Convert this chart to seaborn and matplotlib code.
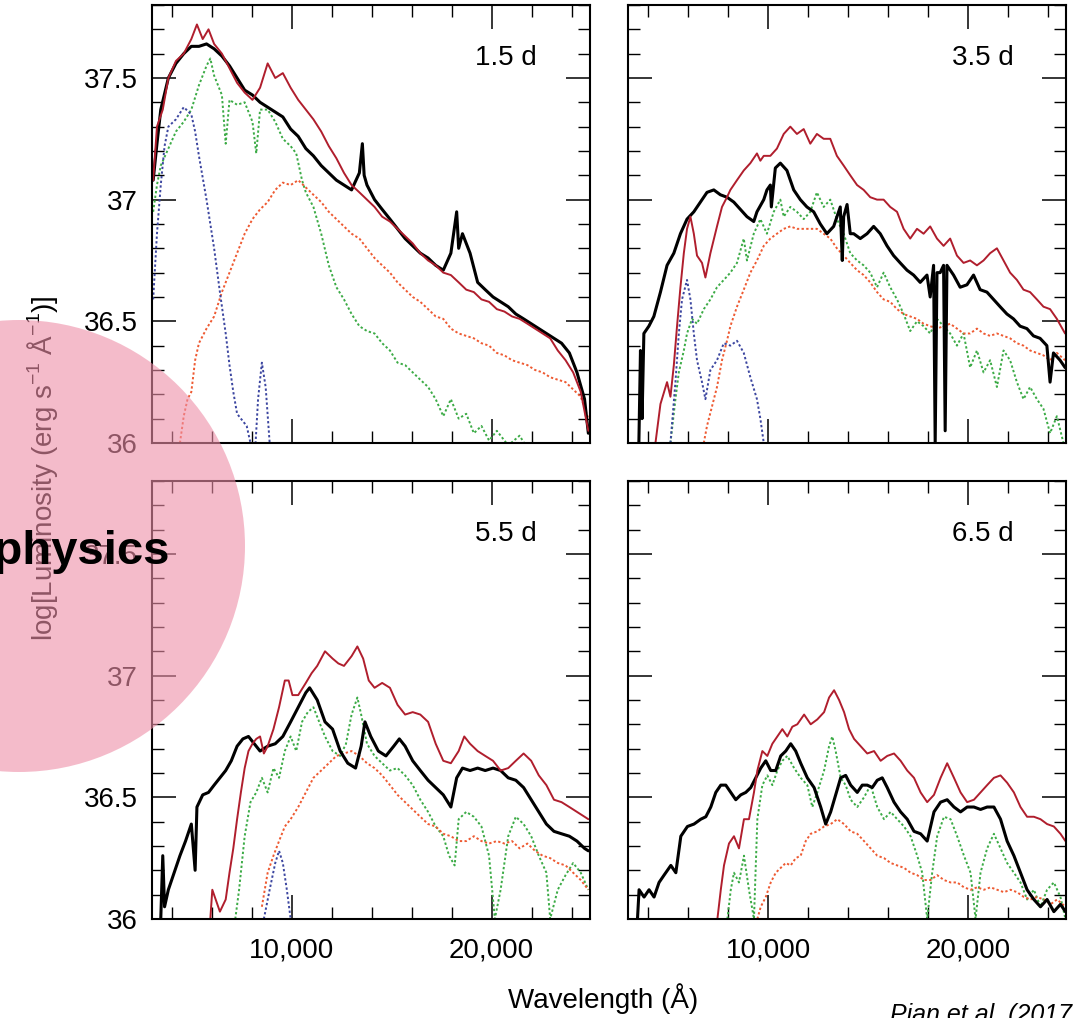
import pandas as pd
import matplotlib.pyplot as plt
import seaborn as sns
from matplotlib.patches import Circle
from matplotlib.ticker import MultipleLocator, FuncFormatter

# (wavelength in Angstrom, log luminosity)
# ---- 1.5 d ----
obs_15 = [(3060, 37.08), (3250, 37.23), (3440, 37.37), (3820, 37.50), (4200, 37.56), (4590, 37.60),
          (4970, 37.63), (5350, 37.63), (5730, 37.64), (6110, 37.62), (6500, 37.59), (6880, 37.55),
          (7260, 37.50), (7640, 37.45), (8030, 37.43), (8410, 37.40), (8790, 37.38), (9170, 37.36),
          (9550, 37.34), (9940, 37.29), (10320, 37.26), (10700, 37.21), (11080, 37.18), (11470, 37.14),
          (11850, 37.11), (12230, 37.08), (12610, 37.06), (12990, 37.04), (13380, 37.11), (13530, 37.23),
          (13620, 37.10), (13760, 37.06), (14140, 37.00), (14520, 36.96), (14910, 36.92), (15290, 36.88),
          (15670, 36.84), (16050, 36.81), (16430, 36.78), (16820, 36.76), (17200, 36.73), (17580, 36.71),
          (17960, 36.78), (18250, 36.95), (18350, 36.80), (18540, 36.86), (18730, 36.82), (18920, 36.78),
          (19300, 36.66), (19680, 36.63), (20070, 36.60), (20450, 36.58), (20830, 36.56), (21210, 36.53),
          (21600, 36.51), (21980, 36.49), (22360, 36.47), (22740, 36.45), (23120, 36.43), (23500, 36.41),
          (23890, 36.37), (24270, 36.29), (24650, 36.18), (24840, 36.04)]
model_15 = [(3060, 37.08), (3250, 37.30), (3540, 37.37), (3820, 37.50), (4200, 37.57), (4590, 37.60),
            (4970, 37.66), (5250, 37.72), (5540, 37.66), (5830, 37.70), (6110, 37.64), (6500, 37.60),
            (6880, 37.54), (7260, 37.48), (7640, 37.44), (8030, 37.41), (8410, 37.46), (8790, 37.56),
            (9170, 37.50), (9550, 37.52), (9940, 37.46), (10320, 37.41), (10700, 37.37), (11080, 37.33),
            (11470, 37.28), (11850, 37.22), (12230, 37.17), (12610, 37.11), (12990, 37.06), (13380, 37.03),
            (13760, 37.00), (14140, 36.97), (14520, 36.93), (14910, 36.91), (15290, 36.88), (15670, 36.85),
            (16050, 36.82), (16430, 36.78), (16820, 36.75), (17200, 36.73), (17580, 36.70), (17960, 36.69),
            (18350, 36.66), (18730, 36.63), (19110, 36.62), (19490, 36.59), (19870, 36.58), (20260, 36.55),
            (20640, 36.54), (21020, 36.52), (21400, 36.51), (21790, 36.49), (22170, 36.47), (22550, 36.45),
            (22930, 36.43), (23310, 36.38), (23700, 36.34), (24080, 36.29), (24460, 36.21), (24840, 36.05)]
green_15 = [(3060, 36.95), (3250, 37.06), (3440, 37.14), (3820, 37.21), (4200, 37.28), (4590, 37.32),
            (4970, 37.37), (5350, 37.47), (5730, 37.55), (5920, 37.58), (6110, 37.51), (6500, 37.43),
            (6690, 37.23), (6880, 37.41), (7260, 37.39), (7640, 37.40), (8030, 37.32), (8220, 37.19),
            (8410, 37.37), (8790, 37.37), (9170, 37.32), (9550, 37.25), (9940, 37.22), (10220, 37.19),
            (10510, 37.08), (10700, 37.03), (11080, 36.97), (11470, 36.86), (11850, 36.73), (12230, 36.64),
            (12610, 36.59), (12990, 36.53), (13380, 36.48), (13760, 36.46), (14140, 36.45), (14520, 36.41),
            (14910, 36.38), (15290, 36.33), (15670, 36.32), (16050, 36.29), (16430, 36.26), (16820, 36.23),
            (17200, 36.18), (17580, 36.11), (17960, 36.18), (18350, 36.10), (18730, 36.12), (19110, 36.04),
            (19490, 36.07), (19870, 36.01), (20260, 36.05), (20830, 35.99), (21400, 36.03), (22000, 35.95)]
orange_15 = [(4400, 36.00), (4590, 36.11), (4780, 36.18), (4970, 36.21), (5160, 36.34), (5350, 36.41),
             (5730, 36.47), (6110, 36.52), (6500, 36.62), (6880, 36.70), (7260, 36.78), (7640, 36.86),
             (8030, 36.92), (8410, 36.96), (8790, 36.99), (9170, 37.04), (9550, 37.07), (9940, 37.06),
             (10320, 37.08), (10700, 37.05), (11080, 37.02), (11470, 36.99), (11850, 36.95), (12230, 36.92),
             (12610, 36.89), (12990, 36.86), (13380, 36.84), (13760, 36.80), (14140, 36.76), (14520, 36.73),
             (14910, 36.70), (15290, 36.66), (15670, 36.63), (16050, 36.60), (16430, 36.58), (16820, 36.55),
             (17200, 36.52), (17580, 36.51), (17960, 36.47), (18350, 36.45), (18730, 36.44), (19110, 36.43),
             (19490, 36.41), (19870, 36.40), (20260, 36.37), (20640, 36.36), (21020, 36.34), (21400, 36.33),
             (21790, 36.32), (22170, 36.30), (22550, 36.29), (22930, 36.27), (23310, 36.26), (23700, 36.25),
             (24080, 36.22), (24460, 36.19), (24840, 36.10)]
blue_15 = [(3060, 36.59), (3250, 36.86), (3440, 37.06), (3630, 37.22), (3820, 37.30), (4200, 37.33),
           (4590, 37.38), (4970, 37.35), (5160, 37.28), (5350, 37.18), (5730, 37.00), (6110, 36.80),
           (6400, 36.62), (6690, 36.45), (6880, 36.32), (7070, 36.21), (7260, 36.12), (7450, 36.10),
           (7740, 36.07), (7930, 36.00), (8150, 35.95), (8310, 36.18), (8500, 36.33), (8690, 36.23),
           (8890, 36.00), (9000, 35.95)]

# ---- 3.5 d ----
obs_35 = [(3520, 36.00), (3600, 36.38), (3680, 36.10), (3770, 36.45), (4020, 36.48), (4270, 36.52),
          (4600, 36.62), (4930, 36.73), (5270, 36.78), (5600, 36.86), (5930, 36.92), (6270, 36.95),
          (6600, 36.99), (6930, 37.03), (7270, 37.04), (7600, 37.02), (7930, 37.01), (8270, 36.99),
          (8600, 36.96), (8930, 36.93), (9270, 36.91), (9430, 36.95), (9770, 37.00), (9930, 37.04),
          (10100, 37.06), (10150, 36.97), (10350, 37.13), (10600, 37.15), (10930, 37.12), (11270, 37.04),
          (11600, 37.00), (11930, 36.97), (12270, 36.95), (12600, 36.90), (12930, 36.86), (13270, 36.89),
          (13600, 36.97), (13700, 36.75), (13770, 36.93), (13940, 36.98), (14100, 36.86), (14270, 36.86),
          (14600, 36.84), (14940, 36.86), (15270, 36.89), (15600, 36.86), (15940, 36.81), (16270, 36.77),
          (16600, 36.74), (16940, 36.71), (17270, 36.69), (17600, 36.66), (17940, 36.69), (18100, 36.60),
          (18270, 36.73), (18350, 36.00), (18440, 36.70), (18600, 36.70), (18770, 36.73), (18850, 36.05),
          (18940, 36.73), (19270, 36.69), (19600, 36.64), (19940, 36.65), (20270, 36.69), (20600, 36.63),
          (20940, 36.62), (21270, 36.59), (21600, 36.56), (21940, 36.53), (22270, 36.51), (22600, 36.48),
          (22940, 36.47), (23270, 36.44), (23600, 36.43), (23940, 36.40), (24100, 36.25), (24270, 36.37),
          (24600, 36.34), (24850, 36.31)]
model_35 = [(4350, 36.00), (4600, 36.16), (4930, 36.25), (5100, 36.19), (5270, 36.32), (5430, 36.48),
            (5600, 36.64), (5770, 36.78), (5930, 36.88), (6100, 36.93), (6270, 36.86), (6430, 36.77),
            (6680, 36.74), (6850, 36.68), (7100, 36.78), (7430, 36.89), (7680, 36.97), (7930, 37.01),
            (8100, 37.04), (8430, 37.08), (8770, 37.12), (9100, 37.15), (9430, 37.19), (9600, 37.16),
            (9770, 37.18), (10100, 37.18), (10430, 37.21), (10770, 37.27), (11100, 37.30), (11430, 37.27),
            (11770, 37.29), (12100, 37.23), (12430, 37.27), (12770, 37.25), (13100, 37.25), (13430, 37.18),
            (13770, 37.14), (14100, 37.10), (14440, 37.06), (14770, 37.04), (15100, 37.01), (15440, 37.00),
            (15770, 37.00), (16100, 36.97), (16440, 36.95), (16770, 36.88), (17100, 36.84), (17440, 36.88),
            (17770, 36.86), (18100, 36.89), (18440, 36.84), (18770, 36.81), (19100, 36.84), (19440, 36.77),
            (19770, 36.74), (20100, 36.75), (20440, 36.73), (20770, 36.75), (21100, 36.78), (21440, 36.80),
            (21770, 36.75), (22100, 36.70), (22440, 36.67), (22770, 36.63), (23100, 36.62), (23440, 36.59),
            (23770, 36.56), (24100, 36.55), (24440, 36.51), (24850, 36.45)]
green_35 = [(5100, 36.00), (5350, 36.18), (5520, 36.29), (5770, 36.38), (5930, 36.45), (6180, 36.51),
            (6430, 36.49), (6770, 36.55), (7100, 36.59), (7430, 36.64), (7770, 36.67), (8100, 36.70),
            (8430, 36.74), (8770, 36.84), (8930, 36.75), (9270, 36.86), (9600, 36.92), (9930, 36.86),
            (10270, 36.95), (10600, 37.00), (10770, 36.93), (11100, 36.97), (11430, 36.95), (11770, 36.92),
            (12100, 36.95), (12430, 37.03), (12770, 36.97), (13100, 37.00), (13430, 36.92), (13770, 36.86),
            (14100, 36.78), (14440, 36.75), (14770, 36.73), (15100, 36.70), (15440, 36.64), (15770, 36.70),
            (16100, 36.64), (16440, 36.59), (16770, 36.53), (17100, 36.46), (17440, 36.50), (17770, 36.48),
            (18100, 36.45), (18440, 36.51), (18770, 36.48), (19100, 36.45), (19440, 36.40), (19770, 36.45),
            (20100, 36.31), (20440, 36.38), (20770, 36.29), (21100, 36.34), (21440, 36.23), (21770, 36.38),
            (22100, 36.34), (22440, 36.25), (22770, 36.18), (23100, 36.23), (23440, 36.18), (23770, 36.14),
            (24100, 36.04), (24440, 36.11), (24770, 36.00)]
orange_35 = [(6770, 36.00), (6930, 36.07), (7180, 36.15), (7430, 36.23), (7680, 36.34), (7930, 36.42),
             (8100, 36.48), (8430, 36.56), (8770, 36.63), (9100, 36.70), (9430, 36.75), (9770, 36.81),
             (10100, 36.84), (10430, 36.86), (10770, 36.88), (11100, 36.89), (11430, 36.88), (11770, 36.88),
             (12100, 36.88), (12430, 36.88), (12770, 36.86), (13100, 36.84), (13430, 36.80), (13770, 36.77),
             (14100, 36.74), (14440, 36.71), (14770, 36.69), (15100, 36.66), (15440, 36.62), (15770, 36.59),
             (16100, 36.58), (16440, 36.55), (16770, 36.53), (17100, 36.52), (17440, 36.51), (17770, 36.49),
             (18100, 36.48), (18440, 36.47), (18770, 36.48), (19100, 36.49), (19440, 36.47), (19770, 36.45),
             (20100, 36.45), (20440, 36.47), (20770, 36.45), (21100, 36.44), (21440, 36.45), (21770, 36.44),
             (22100, 36.43), (22440, 36.41), (22770, 36.40), (23100, 36.38), (23440, 36.37), (23770, 36.36),
             (24100, 36.34), (24440, 36.37), (24850, 36.34)]
blue_35 = [(5100, 36.00), (5350, 36.25), (5520, 36.45), (5680, 36.59), (5930, 36.67), (6100, 36.59),
           (6270, 36.45), (6430, 36.34), (6680, 36.25), (6850, 36.18), (7100, 36.30), (7430, 36.34),
           (7770, 36.41), (8100, 36.40), (8430, 36.42), (8770, 36.37), (9100, 36.27), (9430, 36.18),
           (9600, 36.10), (9770, 36.00)]

# ---- 5.5 d ----
obs_55 = [(3440, 36.00), (3540, 36.26), (3630, 36.05), (3820, 36.12), (4110, 36.19), (4400, 36.26),
          (4680, 36.32), (4970, 36.39), (5160, 36.20), (5250, 36.46), (5540, 36.51), (5830, 36.52),
          (6110, 36.55), (6400, 36.58), (6690, 36.61), (6970, 36.65), (7260, 36.71), (7550, 36.74),
          (7830, 36.75), (8120, 36.72), (8410, 36.69), (8790, 36.71), (9170, 36.72), (9550, 36.75),
          (9940, 36.81), (10320, 36.87), (10700, 36.93), (10890, 36.95), (11270, 36.90), (11660, 36.81),
          (12040, 36.78), (12420, 36.69), (12800, 36.64), (13190, 36.62), (13470, 36.71), (13660, 36.81),
          (13950, 36.75), (14330, 36.69), (14710, 36.67), (15100, 36.71), (15380, 36.74), (15670, 36.71),
          (16050, 36.65), (16430, 36.61), (16820, 36.57), (17200, 36.54), (17580, 36.51), (17960, 36.46),
          (18250, 36.58), (18540, 36.62), (18920, 36.61), (19300, 36.62), (19680, 36.61), (20070, 36.62),
          (20450, 36.61), (20830, 36.58), (21210, 36.57), (21600, 36.54), (21980, 36.49), (22360, 36.44),
          (22740, 36.39), (23120, 36.36), (23500, 36.35), (23890, 36.34), (24270, 36.32), (24650, 36.29),
          (24840, 36.28)]
model_55 = [(5920, 36.00), (6020, 36.12), (6400, 36.03), (6690, 36.08), (6880, 36.19), (7070, 36.29),
            (7260, 36.41), (7450, 36.52), (7640, 36.62), (7830, 36.69), (8030, 36.72), (8220, 36.74),
            (8410, 36.75), (8600, 36.68), (8790, 36.71), (9080, 36.78), (9360, 36.87), (9650, 36.98),
            (9840, 36.98), (10030, 36.92), (10320, 36.92), (10700, 36.97), (10990, 37.01), (11270, 37.04),
            (11660, 37.10), (12040, 37.07), (12330, 37.05), (12610, 37.04), (12990, 37.08), (13280, 37.12),
            (13570, 37.07), (13850, 36.98), (14140, 36.95), (14520, 36.97), (14910, 36.95), (15290, 36.88),
            (15670, 36.84), (16050, 36.85), (16430, 36.84), (16820, 36.81), (17200, 36.72), (17580, 36.65),
            (17960, 36.64), (18350, 36.69), (18630, 36.75), (18920, 36.72), (19300, 36.69), (19680, 36.67),
            (20070, 36.65), (20450, 36.61), (20830, 36.62), (21210, 36.65), (21600, 36.68), (21980, 36.65),
            (22360, 36.59), (22740, 36.55), (23120, 36.49), (23500, 36.48), (23890, 36.46), (24270, 36.44),
            (24650, 36.42), (24840, 36.41)]
green_55 = [(7170, 36.00), (7360, 36.12), (7640, 36.34), (7930, 36.48), (8220, 36.52), (8500, 36.58),
            (8790, 36.52), (9080, 36.62), (9360, 36.58), (9650, 36.69), (9940, 36.75), (10220, 36.69),
            (10510, 36.81), (10800, 36.85), (11080, 36.87), (11370, 36.81), (11660, 36.75), (12040, 36.69),
            (12420, 36.67), (12710, 36.72), (12990, 36.84), (13280, 36.91), (13470, 36.84), (13760, 36.72),
            (14140, 36.67), (14520, 36.64), (14910, 36.61), (15290, 36.62), (15670, 36.59), (16050, 36.55),
            (16430, 36.49), (16820, 36.44), (17200, 36.38), (17580, 36.34), (17870, 36.26), (18150, 36.22),
            (18350, 36.41), (18730, 36.44), (19110, 36.42), (19490, 36.38), (19870, 36.26), (20160, 36.00),
            (20450, 36.12), (20830, 36.34), (21210, 36.42), (21600, 36.39), (21980, 36.34), (22360, 36.26),
            (22740, 36.19), (22930, 36.00), (23310, 36.12), (23700, 36.18), (24080, 36.23), (24460, 36.19),
            (24840, 36.12)]
orange_55 = [(8500, 36.05), (8790, 36.19), (9080, 36.26), (9360, 36.32), (9650, 36.38), (9940, 36.41),
             (10320, 36.46), (10700, 36.52), (11080, 36.58), (11470, 36.61), (11850, 36.64), (12230, 36.67),
             (12610, 36.68), (12990, 36.69), (13380, 36.67), (13760, 36.64), (14140, 36.62), (14520, 36.59),
             (14910, 36.55), (15290, 36.51), (15670, 36.48), (16050, 36.45), (16430, 36.42), (16820, 36.39),
             (17200, 36.38), (17580, 36.35), (17960, 36.34), (18350, 36.32), (18730, 36.32), (19110, 36.34),
             (19490, 36.32), (19870, 36.31), (20260, 36.32), (20640, 36.31), (21020, 36.32), (21400, 36.29),
             (21790, 36.31), (22170, 36.28), (22550, 36.26), (22930, 36.25), (23310, 36.23), (23700, 36.22),
             (24080, 36.19), (24460, 36.16), (24840, 36.12)]
blue_55 = [(8600, 36.00), (8890, 36.12), (9170, 36.23), (9360, 36.28), (9550, 36.23), (9750, 36.12),
           (9940, 36.00)]

# ---- 6.5 d ----
obs_65 = [(3450, 36.00), (3530, 36.12), (3780, 36.09), (4030, 36.12), (4280, 36.09), (4530, 36.15),
          (4780, 36.18), (5120, 36.22), (5370, 36.19), (5620, 36.34), (5950, 36.38), (6280, 36.39),
          (6620, 36.41), (6870, 36.42), (7120, 36.46), (7370, 36.52), (7620, 36.55), (7870, 36.55),
          (8120, 36.52), (8370, 36.49), (8620, 36.51), (8870, 36.52), (9120, 36.54), (9370, 36.58),
          (9620, 36.62), (9870, 36.65), (10120, 36.61), (10370, 36.61), (10620, 36.67), (10870, 36.69),
          (11120, 36.72), (11370, 36.69), (11620, 36.64), (11950, 36.58), (12290, 36.54), (12620, 36.46),
          (12870, 36.39), (13120, 36.44), (13370, 36.51), (13620, 36.58), (13870, 36.59), (14120, 36.55),
          (14450, 36.52), (14700, 36.55), (14950, 36.55), (15200, 36.54), (15450, 36.57), (15700, 36.58),
          (15950, 36.54), (16290, 36.48), (16620, 36.44), (16950, 36.41), (17290, 36.36), (17620, 36.35),
          (17950, 36.32), (18290, 36.44), (18620, 36.48), (18950, 36.49), (19290, 36.46), (19620, 36.44),
          (19950, 36.46), (20290, 36.46), (20620, 36.45), (20950, 36.46), (21290, 36.46), (21620, 36.41),
          (21950, 36.32), (22290, 36.26), (22620, 36.19), (22950, 36.12), (23290, 36.08), (23620, 36.05),
          (23950, 36.08), (24290, 36.03), (24620, 36.06), (24870, 36.03)]
model_65 = [(7450, 36.00), (7620, 36.12), (7780, 36.22), (8030, 36.31), (8280, 36.34), (8530, 36.29),
            (8780, 36.41), (9030, 36.41), (9280, 36.52), (9450, 36.61), (9700, 36.69), (9950, 36.67),
            (10200, 36.72), (10450, 36.75), (10700, 36.78), (10950, 36.75), (11200, 36.79), (11450, 36.80),
            (11790, 36.84), (12120, 36.80), (12450, 36.82), (12790, 36.85), (13040, 36.91), (13290, 36.94),
            (13540, 36.90), (13790, 36.85), (14040, 36.78), (14290, 36.74), (14620, 36.71), (14950, 36.68),
            (15290, 36.69), (15620, 36.65), (15950, 36.67), (16290, 36.68), (16620, 36.65), (16950, 36.61),
            (17290, 36.58), (17620, 36.52), (17950, 36.48), (18290, 36.51), (18620, 36.58), (18950, 36.64),
            (19290, 36.58), (19620, 36.52), (19950, 36.48), (20290, 36.49), (20620, 36.52), (20950, 36.55),
            (21290, 36.58), (21620, 36.59), (21950, 36.56), (22290, 36.52), (22620, 36.46), (22950, 36.42),
            (23290, 36.42), (23620, 36.41), (23950, 36.39), (24290, 36.38), (24620, 36.35), (24870, 36.32)]
green_65 = [(7950, 36.00), (8120, 36.12), (8280, 36.19), (8530, 36.15), (8780, 36.26), (9030, 36.12),
            (9280, 36.00), (9450, 36.41), (9700, 36.55), (9950, 36.59), (10200, 36.55), (10450, 36.61),
            (10700, 36.65), (10950, 36.67), (11290, 36.62), (11620, 36.58), (11950, 36.55), (12200, 36.46),
            (12450, 36.52), (12790, 36.61), (13040, 36.71), (13200, 36.75), (13370, 36.69), (13620, 36.58),
            (13870, 36.55), (14120, 36.49), (14450, 36.46), (14790, 36.50), (15120, 36.55), (15450, 36.46),
            (15790, 36.41), (16120, 36.44), (16450, 36.41), (16790, 36.38), (17120, 36.34), (17450, 36.26),
            (17700, 36.19), (17950, 36.00), (18200, 36.19), (18450, 36.34), (18790, 36.42), (19120, 36.41),
            (19450, 36.34), (19790, 36.26), (20120, 36.19), (20370, 36.00), (20620, 36.19), (20950, 36.29),
            (21290, 36.35), (21620, 36.29), (21950, 36.23), (22290, 36.19), (22620, 36.15), (22950, 36.08),
            (23290, 36.12), (23620, 36.05), (23950, 36.12), (24290, 36.15), (24620, 36.09), (24870, 36.00)]
orange_65 = [(9450, 36.00), (9620, 36.05), (9870, 36.09), (10120, 36.15), (10370, 36.19), (10620, 36.21),
             (10870, 36.23), (11120, 36.22), (11370, 36.25), (11620, 36.26), (11870, 36.32), (12120, 36.35),
             (12450, 36.36), (12790, 36.38), (13120, 36.39), (13450, 36.41), (13790, 36.39), (14120, 36.36),
             (14450, 36.35), (14790, 36.32), (15120, 36.29), (15450, 36.26), (15790, 36.25), (16120, 36.23),
             (16450, 36.22), (16790, 36.21), (17120, 36.19), (17450, 36.18), (17790, 36.16), (18120, 36.16),
             (18450, 36.18), (18790, 36.16), (19120, 36.15), (19450, 36.15), (19790, 36.13), (20120, 36.12),
             (20450, 36.13), (20790, 36.12), (21120, 36.13), (21450, 36.12), (21790, 36.11), (22120, 36.12),
             (22450, 36.11), (22790, 36.09), (23120, 36.08), (23450, 36.09), (23790, 36.08), (24120, 36.06),
             (24450, 36.08), (24870, 36.05)]
blue_65 = []

epochs = ["1.5 d", "3.5 d", "5.5 d", "6.5 d"]
x_ticks = [10000, 20000]
y_ticks = [36, 36.5, 37, 37.5]

panels = [
    (obs_15, model_15, green_15, orange_15, blue_15),
    (obs_35, model_35, green_35, orange_35, blue_35),
    (obs_55, model_55, green_55, orange_55, blue_55),
    (obs_65, model_65, green_65, orange_65, blue_65),
]

sns.set_style("ticks")
plt.rcParams['font.family'] = ['Liberation Sans', 'DejaVu Sans']
plt.rcParams['mathtext.fontset'] = 'custom'
plt.rcParams['mathtext.rm'] = 'Liberation Sans'
plt.rcParams['axes.linewidth'] = 1.5
for key in ['text.color', 'axes.labelcolor', 'xtick.color', 'ytick.color', 'axes.edgecolor']:
    plt.rcParams[key] = 'black'


def draw(ax, pts, color, lw, ls='-'):
    if not pts:
        return
    df = pd.DataFrame(pts, columns=['wl', 'lum'])
    sns.lineplot(data=df, x='wl', y='lum', ax=ax, color=color, lw=lw,
                 linestyle=ls, estimator=None, sort=False)


fig, axes = plt.subplots(2, 2, figsize=(10.74, 10.18), dpi=100, sharex=True, sharey=True)
fig.subplots_adjust(left=0.1415, right=0.9926, bottom=0.0973, top=0.9951,
                    wspace=0.089, hspace=0.0868)

dots = (0, (1.2, 1.2))
for ax, label, (obs, model, green, orange, blue) in zip(axes.flat, epochs, panels):
    draw(ax, green, '#3cab46', 1.4, dots)
    draw(ax, orange, '#ee5a32', 1.4, dots)
    draw(ax, blue, '#3c46a0', 1.4, dots)
    draw(ax, obs, 'black', 2.2)
    draw(ax, model, '#b01e2d', 1.4)

    ax.set_xlim(3000, 24900)
    ax.set_ylim(36, 37.8)
    ax.set_xlabel('')
    ax.set_ylabel('')
    ax.set_xticks(x_ticks)
    ax.set_yticks(y_ticks)
    ax.xaxis.set_minor_locator(MultipleLocator(2000))
    ax.yaxis.set_minor_locator(MultipleLocator(0.1))
    ax.xaxis.set_major_formatter(FuncFormatter(lambda v, p: f"{v:,.0f}"))
    ax.yaxis.set_major_formatter(FuncFormatter(lambda v, p: f"{v:g}"))
    ax.tick_params(which='both', direction='in', top=True, right=True, labelsize=20,
                   color='black', labelcolor='black')
    ax.tick_params(which='major', length=17, width=1.1)
    ax.tick_params(which='minor', length=8.5, width=1.0)
    ax.tick_params(axis='x', pad=13)
    ax.tick_params(axis='y', pad=10)
    for s in ax.spines.values():
        s.set_visible(True)
        s.set_linewidth(1.5)
        s.set_color('black')
    ax.text(0.88, 0.88, label, transform=ax.transAxes, ha='right', va='center',
            fontsize=20, color='black')

fig.text(43 / 1074, 0.540, "log[Luminosity (erg s$^{-1}$ Å$^{-1}$)]", rotation=90,
         ha='center', va='center', fontsize=20, color='black', zorder=0.5)
fig.text(603 / 1074, 0.0098, "Wavelength (Å)", ha='center', va='baseline',
         fontsize=20, color='black')
fig.text(890 / 1074, -0.004, "Pian et al. (2017)", ha='left', va='baseline',
         fontsize=18, style='italic', color='black')

# pink badge over the left edge
badge = Circle((0.19, 4.72), 2.26, transform=fig.dpi_scale_trans,
               facecolor='#ee8fa8', alpha=0.6, edgecolor='none', zorder=1)
fig.add_artist(badge)
fig.text(170 / 1074, 0.446, "Astrophysics", ha='right', va='baseline',
         fontsize=34, fontweight='bold', color='black', zorder=5)

fig.savefig('out.png', dpi=100)
